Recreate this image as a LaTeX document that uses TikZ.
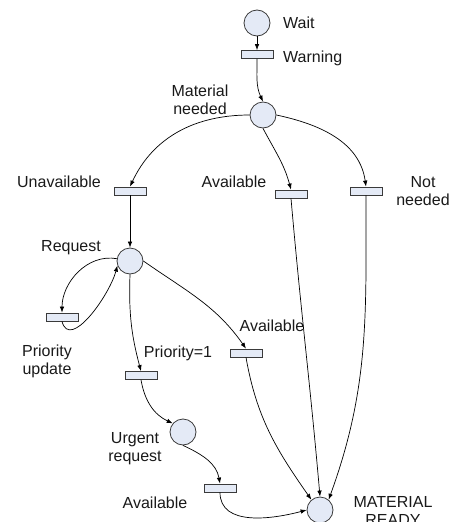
\documentclass[tikz,border=0pt]{standalone}
\usepackage{fontspec}
\setmainfont{Liberation Sans}
\usetikzlibrary{arrows.meta}
\definecolor{pfill}{HTML}{E4EAF6}
\definecolor{pline}{HTML}{3A3A3A}
\begin{document}
\begin{tikzpicture}[x=1pt,y=-1pt,
  place/.style={circle,draw=pline,fill=pfill,line width=0.8pt,minimum size=26pt,inner sep=0pt},
  trans/.style={rectangle,draw=pline,fill=pfill,line width=0.8pt,minimum width=32pt,minimum height=8pt,inner sep=0pt},
  lbl/.style={font=\fontsize{16}{18}\selectfont,align=center,inner sep=0pt,text=black!90},
  arc/.style={-{Latex[length=6pt,width=4.5pt]},line width=0.7pt,black}]
\useasboundingbox (0,0) rectangle (454,522);
% places
\node[place] (wait) at (257,23) {};
\node[place] (mat) at (263,115) {};
\node[place] (req) at (130,261) {};
\node[place] (urg) at (183,432) {};
\node[place] (ready) at (320,510) {};
% transitions
\node[trans] (warn) at (257,54.5) {};
\node[trans] (unav) at (130,191) {};
\node[trans] (av1) at (291,194) {};
\node[trans] (nn) at (366,191) {};
\node[trans] (pu) at (62,317) {};
\node[trans] (av2) at (246,353) {};
\node[trans] (p1) at (141,375.5) {};
\node[trans] (av3) at (220,488) {};
% labels
\node[lbl,anchor=west] (lwait) at (283,23) {Wait};
\node[lbl,anchor=west] (lwarn) at (283,58) {Warning};
\node[lbl] (lmat) at (200,100) {Material\\needed};
\node[lbl] (lunav) at (59,182) {Unavailable};
\node[lbl] (lav1) at (234,182) {Available};
\node[lbl] (lnn) at (423,191) {Not\\needed};
\node[lbl] (lreq) at (71,248) {Request};
\node[lbl] (lpu) at (47,361) {Priority\\update};
\node[lbl] (lav2) at (272,326) {Available};
\node[lbl] (lp1) at (178,353) {Priority=1};
\node[lbl] (lurg) at (135,449) {Urgent\\request};
\node[lbl] (lav3) at (155,503) {Available};
\node[lbl] (lready) at (393,511) {MATERIAL\\READY};
% arcs
\draw[arc] (wait) -- (warn);
\draw[arc] (warn.south) to[out=-90,in=115] (mat.north);
\draw[arc] (mat.west) to[out=180,in=65] (unav.north);
\draw[arc] (mat.south) to[out=-62,in=105] (av1.north);
\draw[arc] (mat.east) to[out=-12,in=98] (nn.north);
\draw[arc] (unav) -- (req);
\draw[arc] (req.170) to[out=170,in=90] (pu.north);
\draw[arc] (pu.south) to[out=-75,in=-105] (req.200);
\draw[arc] (req.south) to[out=-92,in=105] (p1.north);
\draw[arc] (req.east) to[out=-35,in=125] (av2.north);
\draw[arc] (p1.south) to[out=-80,in=155] (urg.140);
\draw[arc] (urg.south) to[out=-25,in=100] (av3.north);
\draw[arc] (av3.south) to[out=-90,in=195] (ready.west);
\draw[arc] (av2.south) to[out=-80,in=125] (ready.130);
\draw[arc] (av1.south) to[out=-85,in=95] (ready.north);
\draw[arc] (nn.south) to[out=-90,in=70] (ready.50);
\end{tikzpicture}
\end{document}
